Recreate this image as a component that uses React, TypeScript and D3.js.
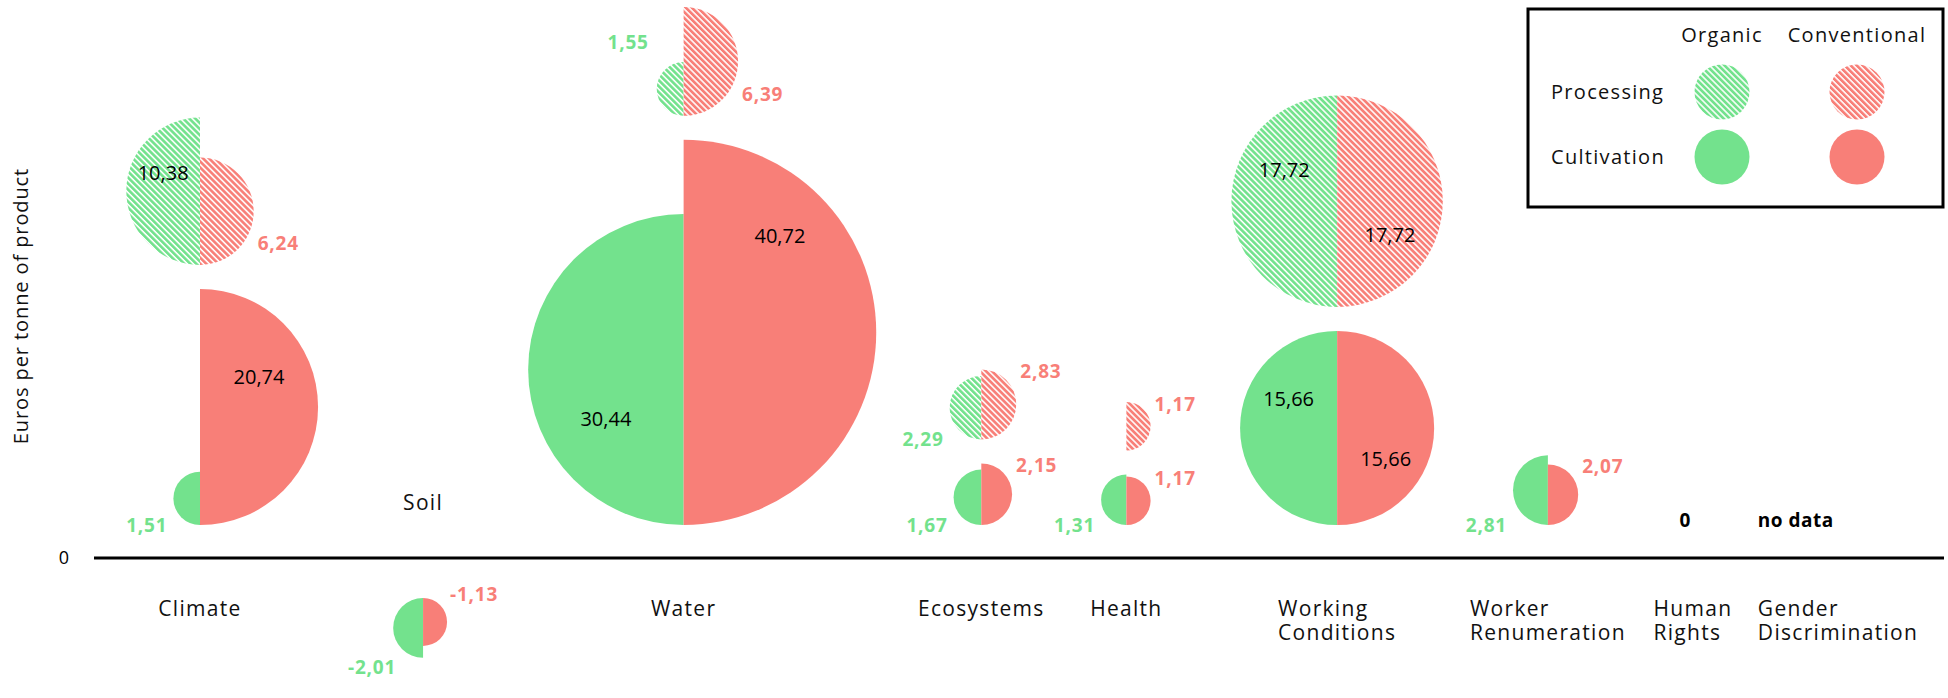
import React, { useRef, useEffect } from 'react';
import * as d3 from 'd3';

// external costs, euros per tonne of product
const categories = ['Climate', 'Soil', 'Water', 'Ecosystems', 'Health', 'Working Conditions', 'Worker Renumeration', 'Human Rights', 'Gender Discrimination'];
const organicCultivation: (number | null)[] = [1.51, -2.01, 30.44, 1.67, 1.31, 15.66, 2.81, 0, null];
const conventionalCultivation: (number | null)[] = [20.74, -1.13, 40.72, 2.15, 1.17, 15.66, 2.07, 0, null];
const organicProcessing: (number | null)[] = [10.38, null, 1.55, 2.29, null, 17.72, null, null, null];
const conventionalProcessing: (number | null)[] = [6.24, null, 6.39, 2.83, 1.17, 17.72, null, null, null];

const yTicks = [0];
const legendColumns = ['Organic', 'Conventional'];
const legendRows = ['Processing', 'Cultivation'];

const WIDTH = 1948;
const HEIGHT = 698;
const GREEN = '#73e28d';
const RED = '#f87f78';
const FONT = '"Open Sans", sans-serif';

const locale = d3.formatLocale({ decimal: ',', thousands: '.', grouping: [3], currency: ['', '€'], minus: '-' });
const fmt = locale.format('.2f');

const App: React.FC = () => {
    const ref = useRef<SVGSVGElement | null>(null);

    useEffect(() => {
        const svg = d3.select(ref.current);
        svg.selectAll('*').remove();

        const axisY = 558;
        const baseUp = axisY - 33; // cultivation circles sit on this
        const baseDown = axisY + 40; // negative values hang from this
        const stackGap = 24;
        const firstX = 200;
        const lastX = 1838;
        const minHalf = 40;

        const defs = svg.append('defs');
        [['hatch-green', GREEN], ['hatch-red', RED]].forEach(([id, c]) => {
            const p = defs.append('pattern')
                .attr('id', id)
                .attr('patternUnits', 'userSpaceOnUse')
                .attr('width', 4.25)
                .attr('height', 10)
                .attr('patternTransform', 'rotate(-45)');
            p.append('rect').attr('width', 4.25).attr('height', 10).attr('fill', '#fff');
            p.append('rect').attr('width', 2.7).attr('height', 10).attr('fill', c);
        });

        const allValues = [...organicCultivation, ...conventionalCultivation, ...organicProcessing, ...conventionalProcessing]
            .filter((v): v is number => v != null && v !== 0)
            .map(Math.abs);

        const r = d3.scalePow().exponent(0.8)
            .domain([0, d3.max(allValues) as number])
            .range([13.8, 192.6]);
        const rr = (v: number | null) => (v == null || v === 0 ? 0 : r(Math.abs(v)));

        // horizontal packing from circle sizes, with an even gap between groups
        const n = categories.length;
        const leftExt = categories.map((_, i) => Math.max(minHalf, rr(organicCultivation[i]), rr(organicProcessing[i])));
        const rightExt = categories.map((_, i) => Math.max(minHalf, rr(conventionalCultivation[i]), rr(conventionalProcessing[i])));
        const inner = d3.sum(d3.range(1, n), (i) => rightExt[i - 1] + leftExt[i]);
        const gap = (lastX - firstX - inner) / (n - 1);
        const xs: number[] = [firstX];
        for (let i = 1; i < n; i++) {
            xs[i] = xs[i - 1] + rightExt[i - 1] + gap + leftExt[i];
        }

        // category labels, lines left-aligned, block centred on the group
        const labelG = svg.append('g').style('font-family', FONT).style('font-size', '21px').style('letter-spacing', '1.3px');
        const labelWidths: number[] = [];
        categories.forEach((name, i) => {
            const g = labelG.append('g');
            let w = 0;
            name.split(' ').forEach((line, k) => {
                const t = g.append('text').attr('y', k * 24).attr('dy', '0.35em').attr('fill', '#111').text(line);
                w = Math.max(w, (t.node() as SVGTextElement).getComputedTextLength());
            });
            labelWidths[i] = w;
            const y = name === 'Soil' ? axisY - 55 : axisY + 51;
            g.attr('transform', `translate(${xs[i] - w / 2},${y})`);
        });

        const leftHalf = (rad: number) => d3.arc()({ innerRadius: 0, outerRadius: rad, startAngle: Math.PI, endAngle: 2 * Math.PI }) as string;
        const rightHalf = (rad: number) => d3.arc()({ innerRadius: 0, outerRadius: rad, startAngle: 0, endAngle: Math.PI }) as string;

        const marks = svg.append('g');
        const texts = svg.append('g').style('font-family', FONT);

        const drawPair = (i: number, o: number | null, c: number | null, base: number, hatched: boolean, mode: string) => {
            const cx = xs[i];
            const ro = rr(o);
            const rc = rr(c);
            const neg = mode === 'neg';
            const cyO = neg ? base + ro : base - ro;
            const cyC = neg ? base + rc : base - rc;
            if (ro) {
                marks.append('path').attr('transform', `translate(${cx},${cyO})`).attr('d', leftHalf(ro))
                    .attr('fill', hatched ? 'url(#hatch-green)' : GREEN);
            }
            if (rc) {
                marks.append('path').attr('transform', `translate(${cx},${cyC})`).attr('d', rightHalf(rc))
                    .attr('fill', hatched ? 'url(#hatch-red)' : RED);
            }

            const inO = ro > 70;
            const inC = rc > 70;
            const both = inO && inC;
            const label = (v: number | null, rad: number, cy: number, side: 'o' | 'c') => {
                if (!rad || v == null) return;
                const isIn = side === 'o' ? inO : inC;
                if (isIn) {
                    let dy = -0.25;
                    if (both) {
                        const mine = side === 'o' ? ro : rc;
                        const other = side === 'o' ? rc : ro;
                        if (mine > other) dy = -0.5;
                        else if (mine === other && side === 'o') dy = -0.3;
                        else dy = 0.32;
                    }
                    texts.append('text')
                        .attr('x', side === 'o' ? cx - rad * 0.5 : cx + rad * 0.5)
                        .attr('y', cy + dy * rad)
                        .attr('dy', '0.35em')
                        .attr('text-anchor', 'middle')
                        .style('font-size', '20px')
                        .attr('fill', '#000')
                        .text(fmt(v));
                    return;
                }
                let x: number;
                let y: number;
                if (side === 'o') {
                    if (mode === 'flip') { x = cx - rad - 8; y = cy - rad - 20; }
                    else if (neg) { x = cx - rad + 3; y = cy + rad + 10; }
                    else { x = cx - rad - 6; y = cy + rad; }
                } else {
                    if (mode === 'flip') { x = cx + rad + 4; y = cy + rad * 0.6; }
                    else if (neg) { x = cx + rad + 3; y = cy - rad - 4; }
                    else { x = cx + rad + 4; y = cy - rad + 2; }
                }
                texts.append('text')
                    .attr('x', x)
                    .attr('y', y)
                    .attr('dy', '0.35em')
                    .attr('text-anchor', side === 'o' ? 'end' : 'start')
                    .style('font-size', '19px')
                    .style('font-weight', 700)
                    .style('letter-spacing', '0.8px')
                    .attr('fill', side === 'o' ? GREEN : RED)
                    .text(fmt(v));
            };
            label(o, ro, cyO, 'o');
            label(c, rc, cyC, 'c');
            return Math.max(ro, rc);
        };

        categories.forEach((_, i) => {
            const o = organicCultivation[i];
            const c = conventionalCultivation[i];
            if (o == null && c == null) {
                texts.append('text')
                    .attr('x', xs[i] - labelWidths[i] / 2)
                    .attr('y', baseUp - 5)
                    .attr('dy', '0.35em')
                    .style('font-size', '19px')
                    .style('font-weight', 700)
                    .style('letter-spacing', '0.5px')
                    .text('no data');
                return;
            }
            if (!o && !c) {
                texts.append('text')
                    .attr('x', xs[i] - 8)
                    .attr('y', baseUp - 5)
                    .attr('dy', '0.35em')
                    .attr('text-anchor', 'middle')
                    .style('font-size', '19px')
                    .style('font-weight', 700)
                    .text(fmt(0).replace(',00', ''));
                return;
            }
            const neg = (o ?? 0) < 0 || (c ?? 0) < 0;
            const cultR = drawPair(i, o, c, neg ? baseDown : baseUp, false, neg ? 'neg' : 'normal');
            const po = organicProcessing[i];
            const pc = conventionalProcessing[i];
            if (po != null || pc != null) {
                const big = Math.max(Math.abs(o ?? 0), Math.abs(c ?? 0)) > 20;
                drawPair(i, po, pc, baseUp - 2 * cultR - stackGap, true, big ? 'flip' : 'normal');
            }
        });

        // axis line and tick
        svg.append('line')
            .attr('x1', 94).attr('x2', WIDTH - 4)
            .attr('y1', axisY).attr('y2', axisY)
            .attr('stroke', '#000').attr('stroke-width', 3);
        svg.append('g').selectAll('text').data(yTicks).enter().append('text')
            .attr('x', 64).attr('y', axisY)
            .attr('dy', '0.35em')
            .attr('text-anchor', 'middle')
            .style('font-family', FONT).style('font-size', '18px')
            .text((d) => d);

        svg.append('text')
            .attr('transform', `translate(21,${306}) rotate(-90)`)
            .attr('dy', '0.35em')
            .attr('text-anchor', 'middle')
            .style('font-family', FONT).style('font-size', '20px').style('letter-spacing', '0.9px')
            .attr('fill', '#111')
            .text('Euros per tonne of product');

        // legend
        const lg = svg.append('g').attr('transform', 'translate(1528,9)')
            .style('font-family', FONT).style('font-size', '20px').style('letter-spacing', '1.3px');
        lg.append('rect').attr('width', 415).attr('height', 198).attr('fill', '#fff').attr('stroke', '#000').attr('stroke-width', 3);
        const colX = [194, 329];
        const rowY = [83, 148];
        legendColumns.forEach((name, k) => {
            lg.append('text').attr('x', colX[k]).attr('y', 26).attr('dy', '0.35em').attr('text-anchor', 'middle')
                .attr('fill', '#111').text(name);
        });
        legendRows.forEach((name, j) => {
            lg.append('text').attr('x', 23).attr('y', rowY[j]).attr('dy', '0.35em').attr('fill', '#111').text(name);
            legendColumns.forEach((_, k) => {
                const color = k === 0 ? GREEN : RED;
                lg.append('circle').attr('cx', colX[k]).attr('cy', rowY[j]).attr('r', 27.5)
                    .attr('fill', j === 0 ? `url(#hatch-${k === 0 ? 'green' : 'red'})` : color);
            });
        });
    }, []);

    return (
        <svg ref={ref} width={WIDTH} height={HEIGHT} style={{ position: 'absolute', left: 0, top: 0, background: '#fff' }} />
    );
};

export default App;
